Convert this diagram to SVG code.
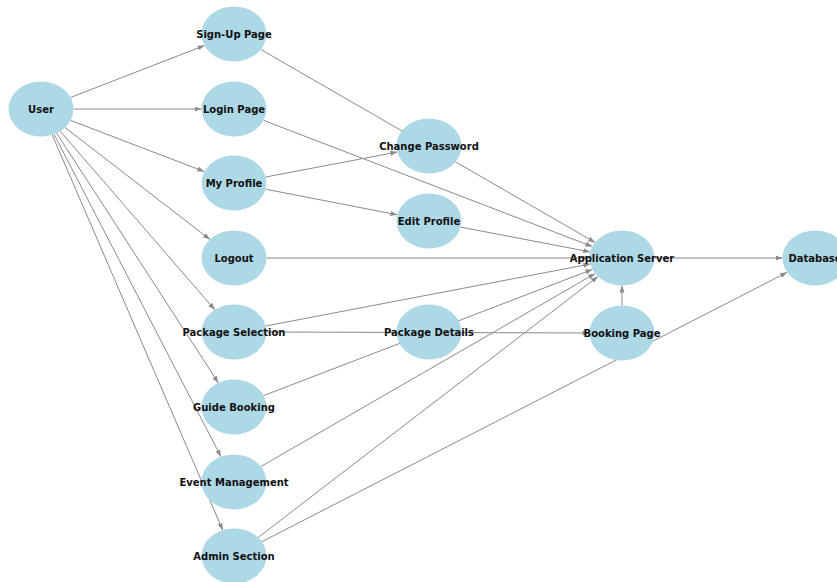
<svg xmlns="http://www.w3.org/2000/svg" width="837" height="582" viewBox="0 0 837 582">
<style>
.edge{stroke:#8a8a8a;stroke-width:1;fill:none}
.node ellipse{fill:#ADD8E6}
.node text{font-family:"DejaVu Sans","Liberation Sans",sans-serif;font-weight:bold;font-size:10px;fill:#111;text-anchor:middle}
</style>
<defs>
<marker id="arr" markerUnits="userSpaceOnUse" markerWidth="8" markerHeight="6" refX="7" refY="2.5" orient="auto">
<path d="M0,0 L7,2.5 L0,5 z" fill="#8a8a8a"/>
</marker>
</defs>
<rect width="837" height="582" fill="#fff"/>
<g id="edges">
<line class="edge" x1="70.5" y1="97.5" x2="204.5" y2="45.5" marker-end="url(#arr)"/>
<line class="edge" x1="73.5" y1="109" x2="201.5" y2="109" marker-end="url(#arr)"/>
<line class="edge" x1="70.6" y1="120.4" x2="204.4" y2="171.6" marker-end="url(#arr)"/>
<line class="edge" x1="65" y1="127.5" x2="210" y2="239.5" marker-end="url(#arr)"/>
<line class="edge" x1="60.2" y1="131.2" x2="214.8" y2="309.8" marker-end="url(#arr)"/>
<line class="edge" x1="56.6" y1="133.1" x2="218.4" y2="382.9" marker-end="url(#arr)"/>
<line class="edge" x1="54" y1="134.2" x2="221" y2="456.8" marker-end="url(#arr)"/>
<line class="edge" x1="52.2" y1="134.8" x2="222.8" y2="530.2" marker-end="url(#arr)"/>
<line class="edge" x1="260.9" y1="49.5" x2="595.2" y2="242.5" marker-end="url(#arr)"/>
<line class="edge" x1="263.6" y1="120.4" x2="592.4" y2="246.6" marker-end="url(#arr)"/>
<line class="edge" x1="265.7" y1="177" x2="397.3" y2="152" marker-end="url(#arr)"/>
<line class="edge" x1="265.7" y1="189.2" x2="397.3" y2="214.8" marker-end="url(#arr)"/>
<line class="edge" x1="460.7" y1="227.1" x2="590.3" y2="251.9" marker-end="url(#arr)"/>
<line class="edge" x1="266.5" y1="258" x2="589.5" y2="258" marker-end="url(#arr)"/>
<line class="edge" x1="265.7" y1="326" x2="590.3" y2="264" marker-end="url(#arr)"/>
<line class="edge" x1="266.5" y1="332" x2="589.5" y2="333" marker-end="url(#arr)"/>
<line class="edge" x1="263.6" y1="395.6" x2="592.4" y2="269.4" marker-end="url(#arr)"/>
<line class="edge" x1="260.9" y1="466.5" x2="595.2" y2="273.5" marker-end="url(#arr)"/>
<line class="edge" x1="258.1" y1="537.5" x2="598" y2="276.5" marker-end="url(#arr)"/>
<line class="edge" x1="261.8" y1="541.7" x2="787.2" y2="272.3" marker-end="url(#arr)"/>
<line class="edge" x1="622" y1="305.5" x2="622" y2="285.5" marker-end="url(#arr)"/>
<line class="edge" x1="654.5" y1="258" x2="782.5" y2="258" marker-end="url(#arr)"/>
</g>
<g id="user" class="node"><ellipse cx="41" cy="109" rx="32.5" ry="27.5"/><text x="41" y="112.5">User</text></g>
<g id="signup" class="node"><ellipse cx="234" cy="34" rx="32.5" ry="27.5"/><text x="234" y="37.5">Sign-Up Page</text></g>
<g id="login" class="node"><ellipse cx="234" cy="109" rx="32.5" ry="27.5"/><text x="234" y="112.5">Login Page</text></g>
<g id="myprofile" class="node"><ellipse cx="234" cy="183" rx="32.5" ry="27.5"/><text x="234" y="186.5">My Profile</text></g>
<g id="logout" class="node"><ellipse cx="234" cy="258" rx="32.5" ry="27.5"/><text x="234" y="261.5">Logout</text></g>
<g id="pkgsel" class="node"><ellipse cx="234" cy="332" rx="32.5" ry="27.5"/><text x="234" y="335.5">Package Selection</text></g>
<g id="guide" class="node"><ellipse cx="234" cy="407" rx="32.5" ry="27.5"/><text x="234" y="410.5">Guide Booking</text></g>
<g id="event" class="node"><ellipse cx="234" cy="482" rx="32.5" ry="27.5"/><text x="234" y="485.5">Event Management</text></g>
<g id="admin" class="node"><ellipse cx="234" cy="556" rx="32.5" ry="27.5"/><text x="234" y="559.5">Admin Section</text></g>
<g id="changepw" class="node"><ellipse cx="429" cy="146" rx="32.5" ry="27.5"/><text x="429" y="149.5">Change Password</text></g>
<g id="editprofile" class="node"><ellipse cx="429" cy="221" rx="32.5" ry="27.5"/><text x="429" y="224.5">Edit Profile</text></g>
<g id="pkgdetails" class="node"><ellipse cx="429" cy="332" rx="32.5" ry="27.5"/><text x="429" y="335.5">Package Details</text></g>
<g id="appserver" class="node"><ellipse cx="622" cy="258" rx="32.5" ry="27.5"/><text x="622" y="261.5">Application Server</text></g>
<g id="booking" class="node"><ellipse cx="622" cy="333" rx="32.5" ry="27.5"/><text x="622" y="336.5">Booking Page</text></g>
<g id="database" class="node"><ellipse cx="815" cy="258" rx="32.5" ry="27.5"/><text x="815" y="261.5">Database</text></g>
</svg>
